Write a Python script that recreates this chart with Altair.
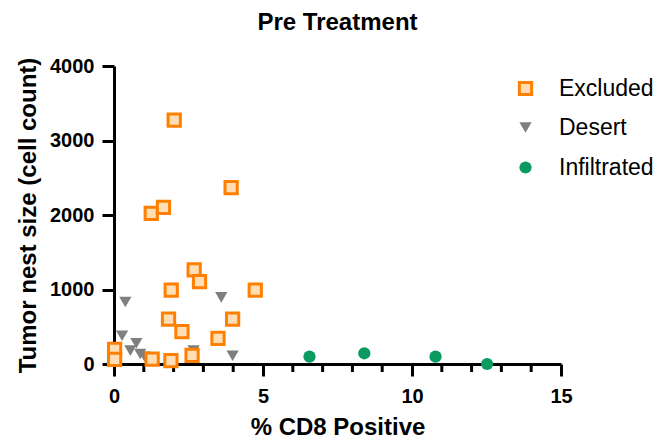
import altair as alt
import pandas as pd

groups = ["Excluded", "Desert", "Infiltrated"]

excluded_x = [2.02, 3.93, 1.25, 1.66, 2.69, 2.87, 1.92, 4.74, 1.83, 2.28, 3.98, 3.49, 1.28, 1.91, 2.62, 0.02, 0.02]
excluded_y = [3275, 2366, 2023, 2103, 1262, 1105, 993, 993, 604, 434, 604, 345, 67, 44, 117, 197, 63]

desert_x = [0.38, 0.27, 3.60, 0.55, 0.75, 0.88, 1.03, 2.67, 3.98]
desert_y = [832, 380, 895, 179, 278, 134, 98, 179, 111]

infiltrated_x = [6.56, 8.40, 10.79, 12.52]
infiltrated_y = [98, 144, 98, 0]

x_major = [0, 5, 10, 15]
x_minor = [1, 2, 3, 4, 6, 7, 8, 9, 11, 12, 13, 14]
y_ticks = [0, 1000, 2000, 3000, 4000]

rows = []
for g, xs, ys in [("Desert", desert_x, desert_y),
                  ("Excluded", excluded_x, excluded_y),
                  ("Infiltrated", infiltrated_x, infiltrated_y)]:
    for xv, yv in zip(xs, ys):
        rows.append({"group": g, "cd8": xv, "size": yv})
df = pd.DataFrame(rows)
minor_df = pd.DataFrame({"cd8": x_minor})

FONT = "Liberation Sans"
W, H = 447, 298

legend = alt.Legend(
    title=None, orient="none", legendX=400, legendY=11,
    labelFont=FONT, labelFontSize=23, labelColor="black",
    rowPadding=15, labelOffset=22, padding=0, symbolStrokeWidth=3,
    symbolSize=150,
)

xscale = alt.Scale(domain=[0, 15], nice=False, zero=False)

points = alt.Chart(df).mark_point(filled=True, opacity=1, strokeWidth=3, size=150).encode(
    x=alt.X("cd8:Q", title="% CD8 Positive", scale=xscale,
            axis=alt.Axis(values=x_major, format="d", tickSize=12, labelFlush=False,
                          labelPadding=10, titleY=70, titleBaseline="alphabetic")),
    y=alt.Y("size:Q", title="Tumor nest size (cell count)",
            scale=alt.Scale(domain=[0, 4000], nice=False),
            axis=alt.Axis(values=y_ticks, format="d", tickSize=12, labelPadding=8, labelFlush=False,
                          titleX=-79, titleBaseline="alphabetic")),
    fill=alt.Fill("group:N", scale=alt.Scale(domain=groups, range=["#FFDDB5", "#7F7F7F", "#0B9A60"]), legend=legend),
    stroke=alt.Stroke("group:N", scale=alt.Scale(domain=groups, range=["#FF8000", "transparent", "transparent"]), legend=legend),
    shape=alt.Shape("group:N", scale=alt.Scale(domain=groups, range=["square", "triangle-down", "circle"]), legend=legend),
)

minor = alt.Chart(minor_df).mark_rule(color="black", strokeWidth=3, opacity=1).encode(
    x=alt.X("cd8:Q", scale=xscale),
    y=alt.value(H),
    y2=alt.value(H + 8),
)

chart = alt.layer(minor, points).properties(
    width=W, height=H,
    title=alt.TitleParams("Pre Treatment", font=FONT, fontSize=24, fontWeight="bold",
                          color="black", offset=2, baseline="alphabetic"),
    autosize=alt.AutoSizeParams(type="none"),
    padding={"left": 106, "top": 58, "right": 96, "bottom": 74},
).configure_view(stroke=None).configure_axis(
    grid=False, domainColor="black", domainWidth=3, tickColor="black", tickWidth=3,
    labelFont=FONT, labelFontSize=20, labelFontWeight="bold", labelColor="black",
    titleFont=FONT, titleFontSize=24, titleFontWeight="bold", titleColor="black",
)

chart.save("out.html", embed_options={"renderer": "svg", "actions": False})
